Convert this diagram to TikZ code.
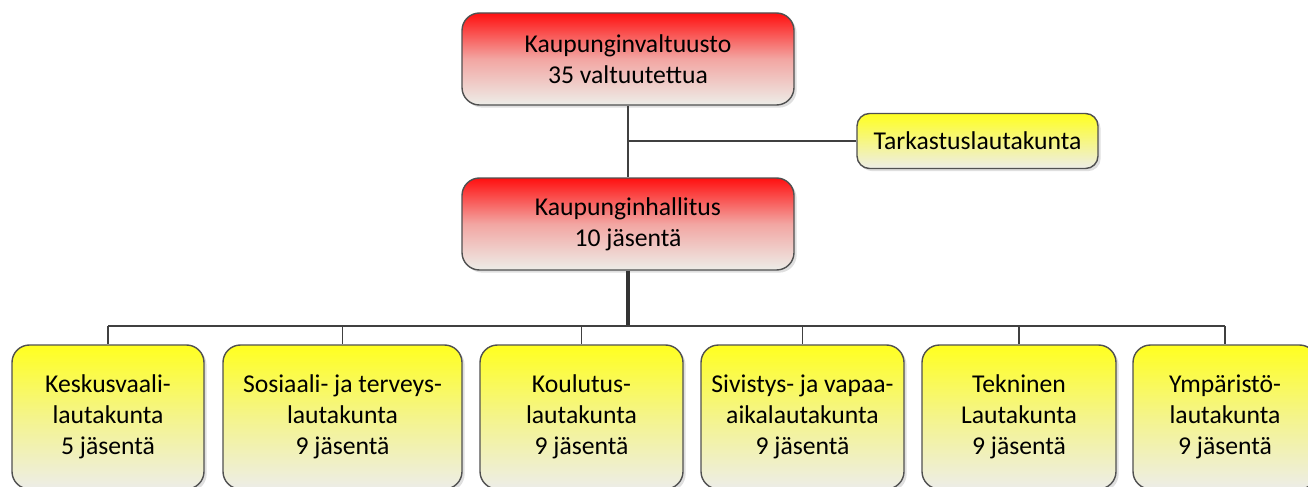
\documentclass[tikz,border=0pt]{standalone}
\usepackage{fontspec}
\setmainfont{Carlito}
\usetikzlibrary{shadows}
\definecolor{boxline}{HTML}{505050}
\definecolor{linkline}{HTML}{404040}
\definecolor{redtop}{HTML}{FF1010}
\definecolor{yeltop}{HTML}{FFFF20}
\definecolor{fadebot}{HTML}{EDEDE8}
\begin{document}
\begin{tikzpicture}[
    block/.style={rectangle, draw=boxline, line width=0.8pt, rounded corners=0.35cm, align=center,
      font=\fontsize{14.6}{17.6}\selectfont, drop shadow={opacity=0.25, shadow xshift=1.5pt, shadow yshift=-1.5pt}},
    redblock/.style={block, top color=redtop, bottom color=fadebot, middle color=red!30!fadebot,
      minimum width=6.64cm, minimum height=1.84cm},
    yellowblock/.style={block, top color=yeltop, bottom color=fadebot, middle color=yellow!40!fadebot,
      minimum height=2.88cm},
    line/.style={draw=linkline, line width=1pt},
    trunk/.style={draw=linkline!80!black, line width=2pt}
]
\useasboundingbox (0,0) rectangle (26.16,9.72);

\node[redblock] (kv) at (12.56,8.54) {Kaupunginvaltuusto\\35 valtuutettua};
\node[redblock] (kh) at (12.56,5.24) {Kaupunginhallitus\\10 jäsentä};
\node[block, top color=yeltop, bottom color=fadebot, rounded corners=0.25cm,
      minimum width=4.82cm, minimum height=1.1cm] (tl) at (19.55,6.9) {Tarkastuslautakunta};

\node[yellowblock, minimum width=3.84cm] (l1) at (2.16,1.38) {Keskusvaali-\\lautakunta\\5 jäsentä};
\node[yellowblock, minimum width=4.78cm] (l2) at (6.85,1.38) {Sosiaali- ja terveys-\\lautakunta\\9 jäsentä};
\node[yellowblock, minimum width=4.06cm] (l3) at (11.63,1.38) {Koulutus-\\lautakunta\\9 jäsentä};
\node[yellowblock, minimum width=4.06cm] (l4) at (16.05,1.38) {Sivistys- ja vapaa-\\aikalautakunta\\9 jäsentä};
\node[yellowblock, minimum width=3.88cm] (l5) at (20.38,1.38) {Tekninen\\Lautakunta\\9 jäsentä};
\node[yellowblock, minimum width=3.68cm] (l6) at (24.5,1.38) {Ympäristö-\\lautakunta\\9 jäsentä};

\coordinate (bus) at (12.56,3.2);

\draw[line] (kv) -- (kh);
\draw[line] (kv.south |- tl.west) -- (tl.west);
\draw[trunk] (kh.south) -- (bus);
\draw[line] (l1.north |- bus) -- (l6.north |- bus);
\foreach \n in {l1,l2,l3,l4,l5,l6}
  \draw[line] (\n.north |- bus) -- (\n.north);
\end{tikzpicture}
\end{document}
